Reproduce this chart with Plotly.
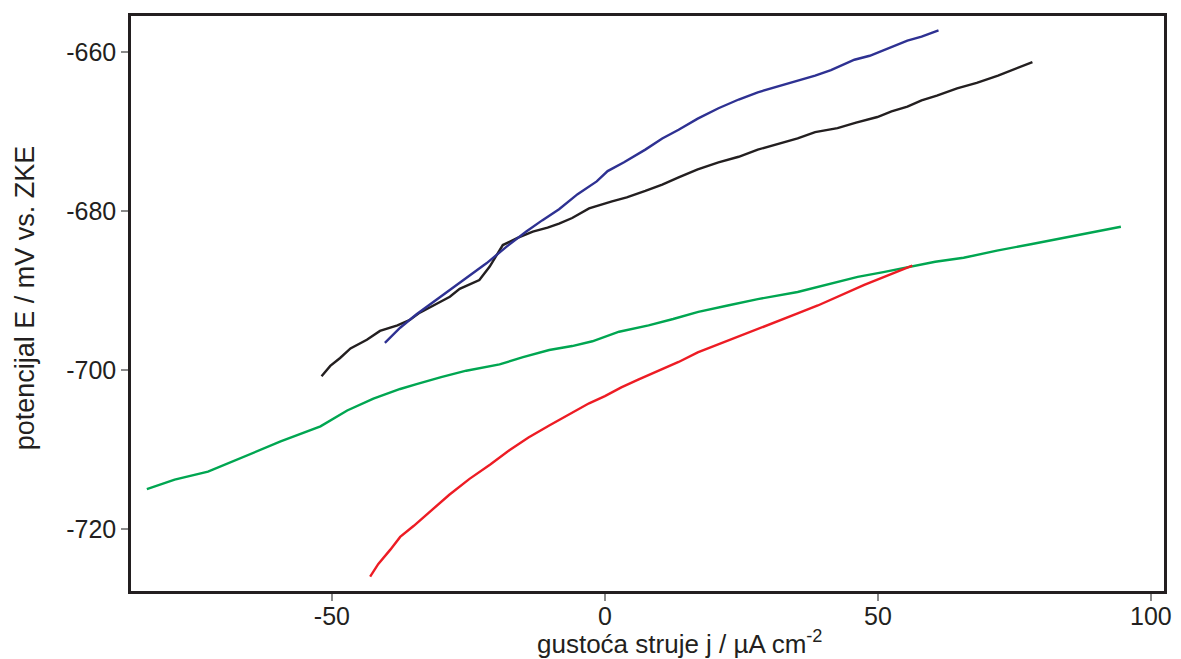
import plotly.graph_objects as go

# Black series
black_x = [-51.9, -50.3, -48.5, -46.6, -43.6, -41.2, -38.0, -35.7, -33.9, -31.0, -28.4, -26.6, -23.0, -21.1, -19.8, -18.7, -16.0, -13.2, -10.5, -8.4, -6.0, -2.9, 1.3, 4.0, 7.4, 10.5, 13.5, 17.0, 20.8, 24.5, 28.0, 31.5, 35.3, 38.5, 42.6, 46.0, 49.9, 52.5, 55.4, 58.0, 60.8, 64.5, 68.1, 72.0, 75.0, 78.3]
black_y = [-700.8, -699.5, -698.5, -697.3, -696.2, -695.1, -694.4, -693.7, -692.8, -691.8, -690.8, -689.8, -688.7, -687.0, -685.6, -684.3, -683.4, -682.6, -682.1, -681.6, -680.9, -679.7, -678.8, -678.3, -677.5, -676.7, -675.8, -674.8, -673.9, -673.2, -672.3, -671.6, -670.9, -670.1, -669.6, -668.9, -668.2, -667.5, -666.9, -666.1, -665.5, -664.6, -663.9, -663.0, -662.2, -661.3]

# Blue series
blue_x = [-40.3, -37.5, -34.5, -31.5, -28.4, -25.0, -21.7, -18.0, -14.4, -11.5, -8.4, -5.0, -1.5, 0.5, 3.5, 7.4, 10.5, 13.5, 17.0, 20.8, 24.5, 28.0, 31.5, 35.3, 38.5, 41.4, 45.7, 48.5, 51.1, 55.4, 58.0, 61.1]
blue_y = [-696.6, -694.7, -693.0, -691.5, -690.0, -688.3, -686.6, -684.5, -682.6, -681.2, -679.8, -677.9, -676.3, -675.0, -673.9, -672.3, -670.9, -669.8, -668.4, -667.1, -666.0, -665.1, -664.4, -663.6, -663.0, -662.3, -661.0, -660.5, -659.8, -658.6, -658.1, -657.3]

# Green series
green_x = [-83.9, -78.8, -72.7, -66.7, -59.4, -52.1, -47.2, -42.4, -37.5, -34.5, -30.0, -25.4, -19.3, -15.0, -10.2, -6.0, -2.3, 2.6, 8.0, 12.5, 17.1, 22.5, 28.0, 35.3, 40.5, 46.3, 51.0, 56.0, 60.5, 65.7, 71.8, 78.0, 83.9, 89.0, 94.5]
green_y = [-715.0, -713.8, -712.8, -711.1, -709.0, -707.1, -705.1, -703.6, -702.4, -701.8, -700.9, -700.1, -699.3, -698.4, -697.5, -697.0, -696.4, -695.2, -694.4, -693.6, -692.7, -691.9, -691.1, -690.2, -689.3, -688.3, -687.7, -687.0, -686.4, -685.9, -685.0, -684.2, -683.4, -682.8, -682.0]

# Red series
red_x = [-43.0, -41.5, -39.3, -37.5, -35.0, -32.1, -28.5, -24.8, -21.0, -17.5, -14.0, -10.2, -6.5, -2.9, 0.0, 3.0, 6.2, 10.0, 13.5, 17.0, 20.8, 24.5, 28.0, 31.5, 35.3, 39.0, 42.6, 47.5, 52.3, 56.3]
red_y = [-726.0, -724.4, -722.6, -721.0, -719.6, -717.9, -715.7, -713.7, -711.9, -710.1, -708.5, -707.0, -705.6, -704.2, -703.3, -702.2, -701.2, -700.1, -699.0, -697.8, -696.8, -695.8, -694.9, -693.9, -692.9, -691.9, -690.8, -689.3, -688.0, -686.9]

x_ticks = [-50, 0, 50, 100]
y_ticks = [-660, -680, -700, -720]

fig = go.Figure()
series = [
    (green_x, green_y, "#00a651"),
    (red_x, red_y, "#ed1c24"),
    (black_x, black_y, "#231f20"),
    (blue_x, blue_y, "#2e3192"),
]
for xs, ys, c in series:
    fig.add_trace(go.Scatter(x=xs, y=ys, mode="lines",
                             line=dict(color=c, width=2.4), showlegend=False))

font = "Liberation Sans, Arial, sans-serif"
fig.update_layout(
    width=1181, height=659,
    margin=dict(l=131, r=9, t=16, b=68),
    paper_bgcolor="white", plot_bgcolor="white",
    font=dict(family=font, size=25, color="#231f20"),
)
fig.update_xaxes(
    range=[-86.8, 102.4], tickvals=x_ticks, ticktext=[str(v) for v in x_ticks],
    showgrid=False, zeroline=False, showline=True, mirror=True,
    linecolor="#231f20", linewidth=2.5, ticks="outside", ticklen=7,
    tickcolor="#8a8a8a", tickwidth=1.5, ticklabelstandoff=-6,
)
fig.update_yaxes(
    range=[-727.8, -655.5], tickvals=y_ticks, ticktext=[str(v) for v in y_ticks],
    showgrid=False, zeroline=False, showline=True, mirror=True,
    linecolor="#231f20", linewidth=2.5, ticks="outside", ticklen=7,
    tickcolor="#8a8a8a", tickwidth=1.5,
)
fig.add_annotation(
    text="gustoća struje j / µA cm<sup>-2</sup>", xref="paper", yref="paper",
    x=0.531, y=0, xanchor="center", yanchor="top", yshift=-33,
    showarrow=False, font=dict(size=26),
)
fig.add_annotation(
    text="potencijal E / mV vs. ZKE", xref="paper", yref="paper",
    x=-0.103, y=0.51, xanchor="center", yanchor="middle", textangle=-90,
    showarrow=False, font=dict(size=27),
)

fig.write_html("out.html", config={"displayModeBar": False},
               post_script="document.body.style.margin='0';document.body.style.overflow='hidden';")
